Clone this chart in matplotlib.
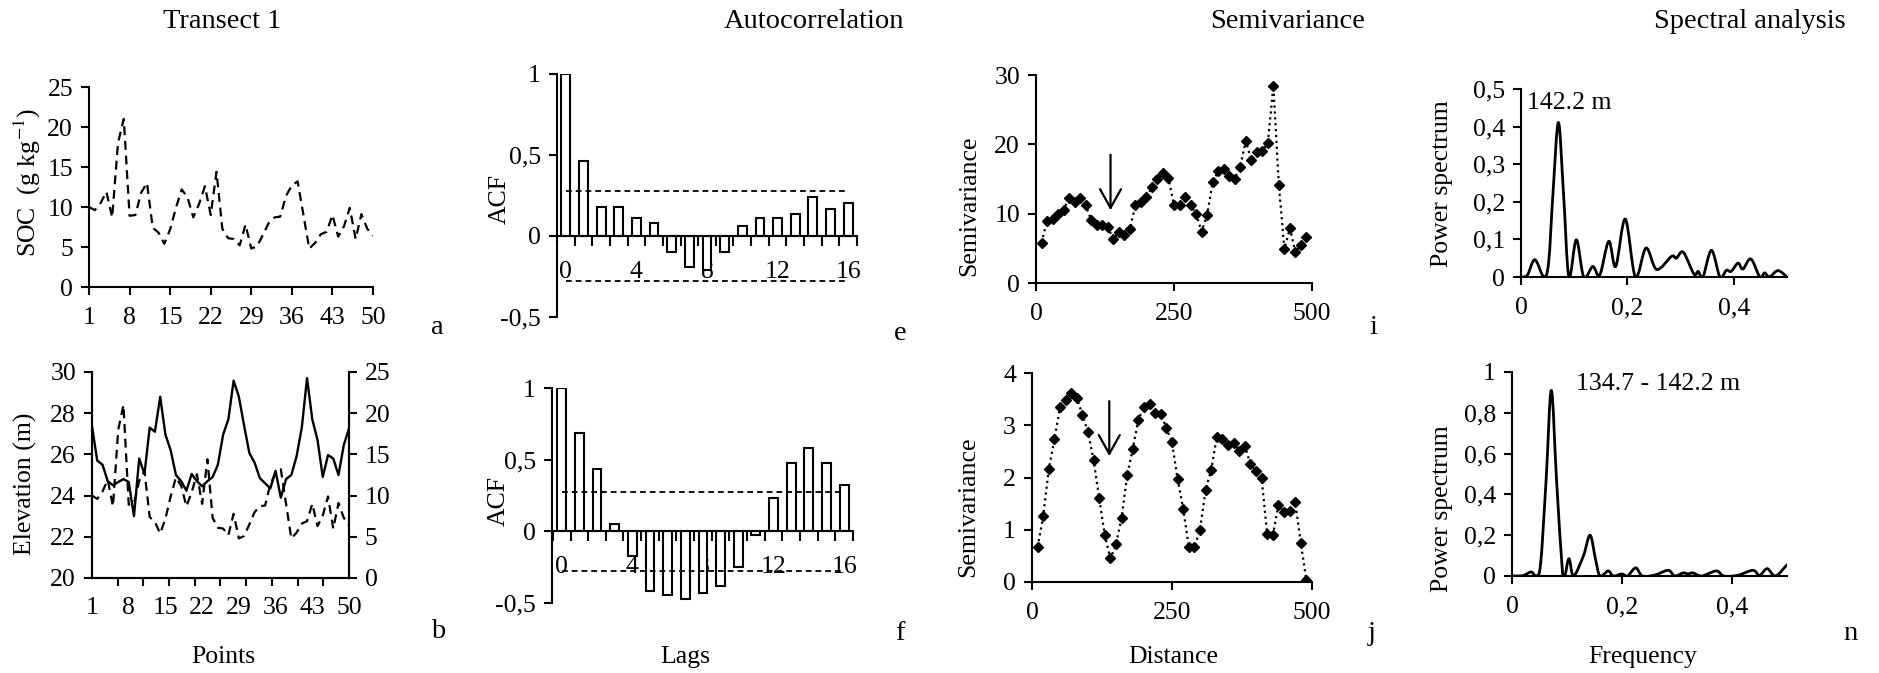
import numpy as np
import matplotlib
matplotlib.use('Agg')
import matplotlib.pyplot as plt
from matplotlib.path import Path
from matplotlib.patches import PathPatch
from matplotlib.ticker import FuncFormatter, FixedLocator

plt.rcParams['font.family'] = ['Liberation Serif', 'DejaVu Serif']
plt.rcParams['mathtext.fontset'] = 'stix'

# transect 1: 50 sampling points, 10 m apart
points = list(range(1, 51))
soc = [10.0, 9.6, 10.5, 11.9, 8.7, 18.0, 21.0, 8.9, 9.0, 11.8,
       13.0, 7.4, 6.8, 5.4, 7.2, 9.9, 12.2, 11.2, 8.7, 10.4,
       12.6, 9.0, 14.4, 7.3, 6.1, 6.0, 5.2, 7.8, 4.8, 5.1,
       6.5, 8.0, 8.7, 8.8, 11.4, 12.7, 13.2, 9.0, 4.8, 5.5,
       6.6, 6.9, 9.0, 6.3, 7.6, 9.9, 6.0, 9.1, 7.3, 6.4]
elevation = [27.36, 25.7, 25.5, 24.7, 24.5, 24.66, 24.8, 24.66, 23.0, 25.8,
             25.05, 27.3, 27.1, 28.8, 26.96, 26.2, 25.0, 24.7, 24.24, 25.05,
             24.7, 24.45, 24.7, 24.9, 25.5, 26.96, 27.7, 29.58, 28.8, 27.4,
             26.07, 25.6, 24.85, 24.6, 24.35, 25.2, 23.9, 24.8, 25.0, 25.9,
             27.3, 29.7, 27.7, 26.7, 24.9, 25.97, 25.8, 25.0, 26.45, 27.26]

# autocorrelation
lags = list(range(0, 17))
acf_soc = [1.0, 0.466, 0.18, 0.176, 0.114, 0.079, -0.10, -0.19, -0.21, -0.10,
           0.064, 0.114, 0.11, 0.135, 0.238, 0.168, 0.205]
acf_elev = [1.0, 0.683, 0.433, 0.051, -0.174, -0.417, -0.444, -0.47, -0.433,
            -0.38, -0.248, -0.023, 0.236, 0.479, 0.583, 0.479, 0.324]
conf = 0.277

# semivariance
dist = list(range(10, 500, 10))
semi_soc = [5.8, 9.0, 9.3, 10.0, 10.6, 12.2, 11.7, 12.3, 11.2, 9.1,
            8.4, 8.3, 8.1, 6.3, 7.4, 6.9, 7.8, 11.2, 11.7, 12.4,
            13.8, 15.0, 15.9, 15.1, 11.2, 11.2, 12.4, 11.2, 10.0, 7.4,
            9.8, 14.5, 16.1, 16.4, 15.5, 15.0, 16.8, 20.5, 17.7, 18.9,
            19.0, 20.2, 28.4, 14.1, 4.9, 7.9, 4.4, 5.5, 6.6]
semi_elev = [0.67, 1.26, 2.16, 2.73, 3.34, 3.48, 3.61, 3.53, 3.20, 2.87,
             2.33, 1.60, 0.89, 0.45, 0.72, 1.23, 2.04, 2.55, 3.11, 3.35,
             3.41, 3.24, 3.22, 2.95, 2.67, 1.97, 1.40, 0.67, 0.67, 0.99,
             1.77, 2.14, 2.78, 2.73, 2.63, 2.66, 2.50, 2.60, 2.26, 2.12,
             1.99, 0.91, 0.89, 1.47, 1.34, 1.36, 1.53, 0.75, 0.03]
arrow_soc = (135, 18.5, 10.5)
arrow_elev = (138, 3.46, 2.41)

# spectral analysis
freq_soc = [0, 0.012, 0.026, 0.043, 0.052, 0.06, 0.0703, 0.08, 0.09, 0.104,
            0.118, 0.135, 0.148, 0.165, 0.178, 0.196, 0.215, 0.235, 0.255,
            0.283, 0.292, 0.305, 0.325, 0.333, 0.342, 0.358, 0.374, 0.386,
            0.395, 0.408, 0.417, 0.432, 0.449, 0.458, 0.467, 0.483, 0.5]
power_soc = [0, 0.005, 0.046, 0.0, 0.04, 0.22, 0.411, 0.22, 0.0, 0.099,
             0.0, 0.028, 0.005, 0.095, 0.028, 0.154, 0.0, 0.077, 0.02,
             0.055, 0.05, 0.066, 0.008, 0.015, 0.0, 0.071, 0.0, 0.018,
             0.015, 0.037, 0.021, 0.048, 0.0, 0.011, 0.0, 0.017, 0.0]
freq_elev = [0, 0.02, 0.035, 0.044, 0.052, 0.062, 0.0715, 0.081, 0.0915, 0.096,
             0.1036, 0.112, 0.13, 0.142, 0.152, 0.16, 0.175, 0.184, 0.2, 0.21,
             0.225, 0.237, 0.26, 0.284, 0.296, 0.311, 0.32, 0.329, 0.345,
             0.3715, 0.385, 0.41, 0.438, 0.45, 0.464, 0.479, 0.5]
power_elev = [0, 0.002, 0.02, 0.0, 0.06, 0.47, 0.91, 0.47, 0.03, 0.0,
              0.085, 0.0, 0.1, 0.2, 0.08, 0.0, 0.025, 0.0, 0.01, 0.0,
              0.04, 0.0, 0.005, 0.028, 0.0, 0.015, 0.01, 0.015, 0.0,
              0.025, 0.0, 0.003, 0.028, 0.003, 0.036, 0.0, 0.055]

W, H = 1879, 673
FS = 18.5
LW = 1.5

fig = plt.figure(figsize=(W / 100, H / 100), dpi=100)


def box(x0, y0, x1, y1):
    return [x0 / W, 1 - y1 / H, (x1 - x0) / W, (y1 - y0) / H]


def put(x, y, s, size=FS, **kw):
    fig.text(x / W, 1 - y / H, s, ha='center', va='center', fontsize=size, **kw)


comma = FuncFormatter(lambda v, pos: ('%g' % v).replace('.', ','))


def style(ax, right=False):
    ax.spines['top'].set_visible(False)
    ax.spines['right'].set_visible(right)
    for s in ax.spines.values():
        s.set_linewidth(LW)
    ax.tick_params(which='both', direction='out', length=5.5, width=LW,
                   labelsize=FS, pad=6)
    ax.tick_params(axis='x', pad=9)
    ax.patch.set_alpha(0)


def smooth_line(ax, xs, ys):
    # smoothed line through the points (Catmull-Rom as cubic Beziers)
    pts = np.column_stack([xs, ys]).astype(float)
    verts, codes = [pts[0]], [Path.MOVETO]
    n = len(pts)
    for i in range(n - 1):
        p0, p1 = pts[max(i - 1, 0)], pts[i]
        p2, p3 = pts[i + 1], pts[min(i + 2, n - 1)]
        verts += [p1 + (p2 - p0) / 6, p2 - (p3 - p1) / 6, p2]
        codes += [Path.CURVE4] * 3
    ax.add_patch(PathPatch(Path(verts, codes), fill=False, lw=2.0,
                           edgecolor='k', capstyle='round', joinstyle='round'))


dash = (0, (4, 2.6))

# --- a: SOC along the transect
ax = fig.add_axes(box(89, 87, 373, 287))
ax.plot(points, soc, color='k', lw=1.6, ls=dash)
ax.set_xlim(1, 50)
ax.set_ylim(0, 25)
ax.set_xticks(points[::7])
ax.set_yticks(range(0, 26, 5))
style(ax)

# --- b: elevation with SOC on the right axis
ax = fig.add_axes(box(92, 372, 349, 578))
ax.plot(points, elevation, color='k', lw=1.7)
ax.set_xlim(1, 50)
ax.set_ylim(20, 30)
ax.set_yticks(range(20, 31, 2))
ax.set_xticks(points[::7])
ax.xaxis.set_minor_locator(FixedLocator(np.linspace(1, 50, 11)))
style(ax, right=True)
ax.tick_params(axis='x', which='major', length=0, pad=14)
tw = ax.twinx()
tw.plot(points, soc, color='k', lw=1.6, ls=dash)
tw.set_ylim(0, 25)
tw.set_yticks(range(0, 26, 5))
tw.spines['top'].set_visible(False)
for s in tw.spines.values():
    s.set_linewidth(LW)
tw.tick_params(direction='out', length=5.5, width=LW, labelsize=FS, pad=6)


def acf_panel(bx, vals, xlo):
    ax = fig.add_axes(bx)
    ax.bar(lags, vals, width=0.5, color='white', edgecolor='k', lw=LW, zorder=3)
    ax.hlines([conf, -conf], lags[0], lags[-1], colors='k', lw=1.3,
              linestyles=(0, (3.2, 2.2)), zorder=4)
    ax.set_xlim(xlo, 16.5)
    ax.set_ylim(-0.5, 1)
    ax.set_yticks([-0.5, 0, 0.5, 1])
    ax.yaxis.set_major_formatter(comma)
    style(ax)
    ax.spines['bottom'].set_position(('data', 0))
    ax.spines['bottom'].set_zorder(5)
    ax.set_xticks(lags[::4])
    ax.xaxis.set_minor_locator(FixedLocator(np.arange(-0.5, 17, 1)))
    ax.tick_params(axis='x', which='major', length=0, pad=18)
    ax.tick_params(axis='x', which='minor', length=7)
    return ax


acf_panel(box(557, 74, 857, 317), acf_soc, -0.5)
acf_panel(box(552, 388, 853, 603), acf_elev, -0.55)


def semi_panel(bx, vals, top, step, arrow):
    ax = fig.add_axes(bx)
    ax.plot(dist, vals, color='k', lw=1.6, ls=':', marker='D', ms=5,
            mfc='k', mec='k')
    ax.set_xlim(0, 500)
    ax.set_ylim(0, top)
    ax.set_xticks([0, 250, 500])
    ax.set_yticks(np.arange(0, top + step / 2, step))
    style(ax)
    ax.annotate('', xy=(arrow[0], arrow[2]), xytext=(arrow[0], arrow[1]),
                arrowprops=dict(arrowstyle='->,head_length=0.75,head_width=0.42',
                                lw=1.6, color='k', mutation_scale=18,
                                shrinkA=0, shrinkB=0))
    return ax


semi_panel(box(1036, 75, 1312, 283), semi_soc, 30, 10, arrow_soc)
semi_panel(box(1032, 373, 1312, 582), semi_elev, 4, 1, arrow_elev)


def spec_panel(bx, fr, pw, top, step, label, lx, ly, ha):
    ax = fig.add_axes(bx)
    smooth_line(ax, fr, pw)
    ax.set_xlim(0, 0.5)
    ax.set_ylim(0, top)
    ax.set_xticks([0, 0.2, 0.4])
    ax.set_yticks(np.arange(0, top + step / 2, step))
    ax.xaxis.set_major_formatter(comma)
    ax.yaxis.set_major_formatter(comma)
    style(ax)
    ax.text(lx, ly, label, ha=ha, va='center', fontsize=FS)
    return ax


spec_panel(box(1521, 89, 1787, 277), freq_soc, power_soc, 0.5, 0.1,
           '142.2 m', 0.011, 0.463, 'left')
spec_panel(box(1512, 372, 1787, 576), freq_elev, power_elev, 1.0, 0.2,
           '134.7 - 142.2 m', 0.265, 0.943, 'center')

# column titles
for x, t in [(222, 'Transect 1'), (814, 'Autocorrelation'),
             (1288, 'Semivariance'), (1750, 'Spectral analysis')]:
    put(x, 22, t, size=20.5)

# axis labels
put(27, 183, 'SOC  (g kg$^{-1}$)', rotation=90)
put(25, 484, 'Elevation (m)', rotation=90)
put(500, 199, 'ACF', rotation=90)
put(499, 501, 'ACF', rotation=90)
put(969, 206, 'Semivariance', rotation=90)
put(968, 507, 'Semivariance', rotation=90)
put(1442, 184, 'Power spectrum', rotation=90)
put(1442, 509, 'Power spectrum', rotation=90)
put(223, 657, 'Points')
put(685, 657, 'Lags')
put(1173, 657, 'Distance')
put(1643, 657, 'Frequency')

# panel letters
for x, y, s in [(437, 327, 'a'), (438, 632, 'b'), (900, 333, 'e'),
                (900, 633, 'f'), (1373, 327, 'i'), (1372, 633, 'j'),
                (1850, 633, 'n')]:
    put(x, y, s, size=20.5)

fig.savefig('out.png', dpi=100, facecolor='white')
